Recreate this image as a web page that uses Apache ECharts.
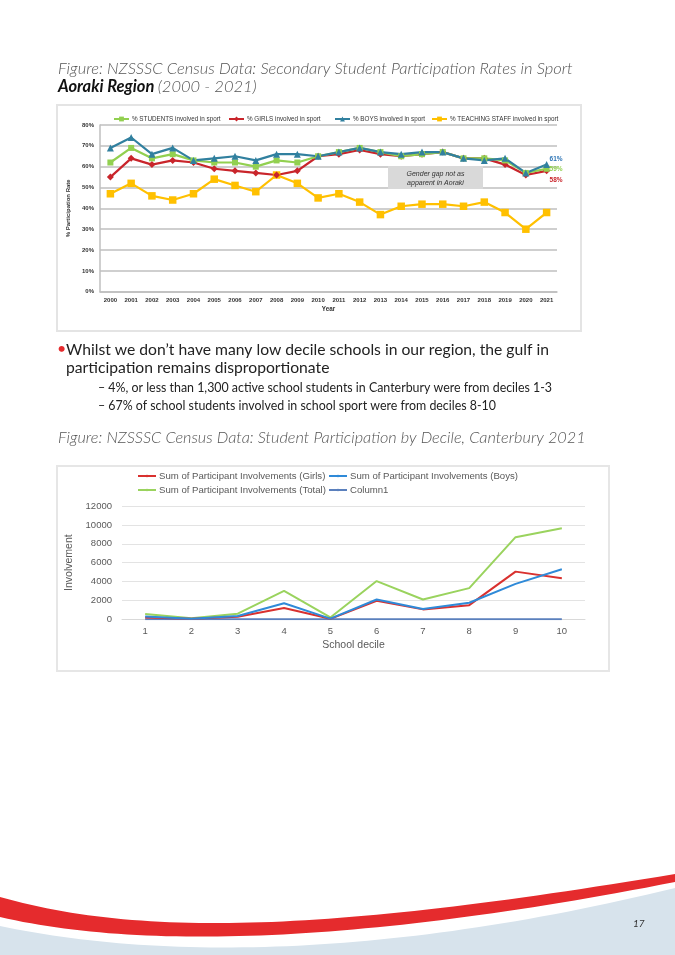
<!DOCTYPE html>
<html>
<head>
<meta charset="utf-8">
<script src="https://cdn.jsdelivr.net/npm/echarts@6/dist/echarts.min.js"></script>
<style>
html,body{margin:0;padding:0;background:#fff;}
#c{width:675px;height:955px;}
</style>
</head>
<body>
<div id="c"></div>
<script>
// ---- Top chart data (Aoraki Region, % participation) ----
const years = ['2000','2001','2002','2003','2004','2005','2006','2007','2008','2009','2010','2011','2012','2013','2014','2015','2016','2017','2018','2019','2020','2021'];
const studentsPct = [62,69,64,66,63,62,62,60,63,62,65,67,69,67,65,66,67,64,64,63,57,59];
const girlsPct    = [55,64,61,63,62,59,58,57,56,58,65,66,68,66,65,66,67,64,64,61,56,58];
const boysPct     = [69,74,66,69,63,64,65,63,66,66,65,67,69,67,66,67,67,64,63,64,57,61];
const teachersPct = [47,52,46,44,47,54,51,48,56,52,45,47,43,37,41,42,42,41,43,38,30,38];
const pctTicks = [0,10,20,30,40,50,60,70,80];

// ---- Bottom chart data (Canterbury 2021 by decile) ----
const deciles = ['1','2','3','4','5','6','7','8','9','10'];
const girlsInv = [200,50,280,1200,50,1950,1050,1500,5050,4350];
const boysInv  = [300,70,350,1700,70,2100,1100,1750,3750,5300];
const totalInv = [560,100,600,3000,200,4050,2100,3300,8700,9650];
const column1  = [0,0,0,0,0,0,0,0,0,0];
const invTicks = [0,2000,4000,6000,8000,10000,12000];

const N1 = ['% STUDENTS involved in sport','% GIRLS involved in sport','% BOYS involved in sport','% TEACHING STAFF involved in sport'];
const N2 = ['Sum of Participant Involvements (Girls)','Sum of Participant Involvements (Boys)','Sum of Participant Involvements (Total)','Column1'];

const PF = 'Lato, "Open Sans", sans-serif';
const CF = '"Liberation Sans", Arial, sans-serif';

// bezier helper for footer waves
function bez(p0,p1,p2,p3,n){const pts=[];for(let i=0;i<=n;i++){const t=i/n,u=1-t;pts.push([u*u*u*p0[0]+3*u*u*t*p1[0]+3*u*t*t*p2[0]+t*t*t*p3[0],u*u*u*p0[1]+3*u*u*t*p1[1]+3*u*t*t*p2[1]+t*t*t*p3[1]]);}return pts;}
const redTop = bez([0,897],[150,940],[350,928],[675,874],60);
const redBot = bez([0,917],[150,952],[380,940],[675,882],60);
const bluTop = bez([0,926],[170,962],[400,955],[675,888],60);
const redPoly = redTop.concat(redBot.slice().reverse());
const bluPoly = bluTop.concat([[675,960],[0,960]]);

const chart = echarts.init(document.getElementById('c'));

function legendItem(name,left,top,fs,iw,ih,color){
  return {data:[name],left:left,top:top,orient:'horizontal',itemWidth:iw,itemHeight:ih,itemGap:0,padding:0,
    textStyle:{fontSize:fs,color:color,fontFamily:CF,padding:[0,0,0,-2]}};
}

const option = {
  animation:false,
  backgroundColor:'#ffffff',
  graphic:[
    {type:'polygon',shape:{points:bluPoly},style:{fill:'#d7e3ec'},z:-1},
    {type:'polygon',shape:{points:redPoly},style:{fill:'#e52b2d'},z:-1},
    {type:'rect',shape:{x:57,y:105,width:524,height:226},style:{fill:'#fff',stroke:'#e4e4e4',lineWidth:2},z:-10},
    {type:'rect',shape:{x:57,y:466,width:552,height:205},style:{fill:'#fff',stroke:'#e6e6e6',lineWidth:2},z:-10},
    {type:'text',left:58,top:60,style:{text:'Figure: NZSSSC Census Data: Secondary Student Participation Rates in Sport',font:'italic 300 16.5px '+PF,fill:'#555'}},
    {type:'text',left:58,top:78,style:{text:'{b|Aoraki Region} {i|(2000 - 2021)}',rich:{b:{font:'italic bold 16.5px '+PF,fill:'#111'},i:{font:'italic 300 16.5px '+PF,fill:'#555'}}}},
    {type:'text',left:57,top:341,style:{text:'•',font:'16px '+PF,fill:'#e52b2d'}},
    {type:'text',left:66,top:342,style:{text:'Whilst we don\u2019t have many low decile schools in our region, the gulf in',font:'15.7px '+PF,fill:'#222'}},
    {type:'text',left:66,top:360,style:{text:'participation remains disproportionate',font:'15.7px '+PF,fill:'#222'}},
    {type:'text',left:98,top:382,style:{text:'\u2013 4%, or less than 1,300 active school students in Canterbury were from deciles 1-3',font:'12.4px '+PF,fill:'#222'}},
    {type:'text',left:98,top:400,style:{text:'\u2013 67% of school students involved in school sport were from deciles 8-10',font:'12.4px '+PF,fill:'#222'}},
    {type:'text',left:58,top:430,style:{text:'Figure: NZSSSC Census Data: Student Participation by Decile, Canterbury 2021',font:'italic 300 16.3px '+PF,fill:'#555'}},
    {type:'text',left:633,top:919,style:{text:'17',font:'italic 10px '+PF,fill:'#333'}},
    {type:'rect',shape:{x:388,y:166,width:95,height:23},style:{fill:'#d9d9d9'},z:20},
    {type:'text',x:435.5,y:174,style:{text:'Gender gap not as',font:'italic 7px '+CF,fill:'#333',align:'center',verticalAlign:'middle'},z:21},
    {type:'text',x:435.5,y:183,style:{text:'apparent in Aoraki',font:'italic 7px '+CF,fill:'#333',align:'center',verticalAlign:'middle'},z:21}
  ],
  legend:[
    legendItem(N1[0],113,116,6.3,15,6,'#333'),
    legendItem(N1[1],228,116,6.3,15,6,'#333'),
    legendItem(N1[2],334,116,6.3,15,6,'#333'),
    legendItem(N1[3],431,116,6.3,15,6,'#333'),
    legendItem(N2[0],137,471,9.6,18,3,'#595959'),
    legendItem(N2[1],328,471,9.6,18,3,'#595959'),
    legendItem(N2[2],137,485,9.6,18,3,'#595959'),
    legendItem(N2[3],328,485,9.6,18,3,'#595959')
  ],
  grid:[
    {left:100,right:118,top:125,bottom:663.3,containLabel:false},
    {left:122,right:90,top:506,bottom:335.7,containLabel:false}
  ],
  xAxis:[
    {gridIndex:0,type:'category',data:years,boundaryGap:true,
     axisLine:{lineStyle:{color:'#bfbfbf',width:1.5}},axisTick:{show:false},
     axisLabel:{interval:0,fontSize:6,fontWeight:'bold',color:'#333',fontFamily:CF,margin:6},
     name:'Year',nameLocation:'middle',nameGap:15,nameTextStyle:{fontSize:6.3,fontWeight:'bold',color:'#333',fontFamily:CF}},
    {gridIndex:1,type:'category',data:deciles,boundaryGap:true,
     axisLine:{lineStyle:{color:'#d9d9d9'}},axisTick:{show:false},
     axisLabel:{interval:0,fontSize:9.5,color:'#595959',fontFamily:CF,margin:7},
     name:'School decile',nameLocation:'middle',nameGap:20,nameTextStyle:{fontSize:10.5,color:'#595959',fontFamily:CF}}
  ],
  yAxis:[
    {gridIndex:0,type:'value',min:pctTicks[0],max:pctTicks[pctTicks.length-1],interval:10,
     axisLine:{show:true,lineStyle:{color:'#bfbfbf',width:1.5}},axisTick:{show:false},
     splitLine:{lineStyle:{color:'#bfbfbf',width:1.5}},
     axisLabel:{formatter:'{value}%',fontSize:6,fontWeight:'bold',color:'#333',fontFamily:CF,margin:6},
     name:'% Participation Rate',nameLocation:'middle',nameRotate:90,nameGap:22,nameTextStyle:{fontSize:6,fontWeight:'bold',color:'#333',fontFamily:CF}},
    {gridIndex:1,type:'value',min:invTicks[0],max:invTicks[invTicks.length-1],interval:2000,
     axisLine:{show:false},axisTick:{show:false},
     splitLine:{lineStyle:{color:'#e3e3e3',width:1.2}},
     axisLabel:{formatter:v=>String(v),fontSize:9.5,color:'#595959',fontFamily:CF,margin:10},
     name:'Involvement',nameLocation:'middle',nameRotate:90,nameGap:41,nameTextStyle:{fontSize:10.5,color:'#595959',fontFamily:CF}}
  ],
  series:[
    {name:N1[3],type:'line',xAxisIndex:0,yAxisIndex:0,data:teachersPct,color:'#ffc000',symbol:'rect',symbolSize:7.5,lineStyle:{width:2.2}},
    {name:N1[1],type:'line',xAxisIndex:0,yAxisIndex:0,data:girlsPct,color:'#c9252b',symbol:'diamond',symbolSize:7,lineStyle:{width:2.2},
     endLabel:{show:true,formatter:p=>p.value+'%',color:'#c9252b',fontSize:6.5,fontWeight:'bold',fontFamily:CF,distance:3,offset:[0,9]}},
    {name:N1[0],type:'line',xAxisIndex:0,yAxisIndex:0,data:studentsPct,color:'#92d050',symbol:'rect',symbolSize:6,lineStyle:{width:2.2},
     endLabel:{show:true,formatter:p=>p.value+'%',color:'#92d050',fontSize:6.5,fontWeight:'bold',fontFamily:CF,distance:3,offset:[0,0]}},
    {name:N1[2],type:'line',xAxisIndex:0,yAxisIndex:0,data:boysPct,color:'#31809f',symbol:'triangle',symbolSize:7,lineStyle:{width:2.2},
     endLabel:{show:true,formatter:p=>p.value+'%',color:'#2e75b6',fontSize:6.5,fontWeight:'bold',fontFamily:CF,distance:3,offset:[0,-5]}},
    {name:N2[3],type:'line',xAxisIndex:1,yAxisIndex:1,data:column1,color:'#5b80bd',symbol:'none',lineStyle:{width:2}},
    {name:N2[2],type:'line',xAxisIndex:1,yAxisIndex:1,data:totalInv,color:'#9ad35e',symbol:'none',lineStyle:{width:2}},
    {name:N2[0],type:'line',xAxisIndex:1,yAxisIndex:1,data:girlsInv,color:'#d9312f',symbol:'none',lineStyle:{width:2}},
    {name:N2[1],type:'line',xAxisIndex:1,yAxisIndex:1,data:boysInv,color:'#2f8ad8',symbol:'none',lineStyle:{width:2}}
  ]
};
chart.setOption(option);
</script>
</body>
</html>
